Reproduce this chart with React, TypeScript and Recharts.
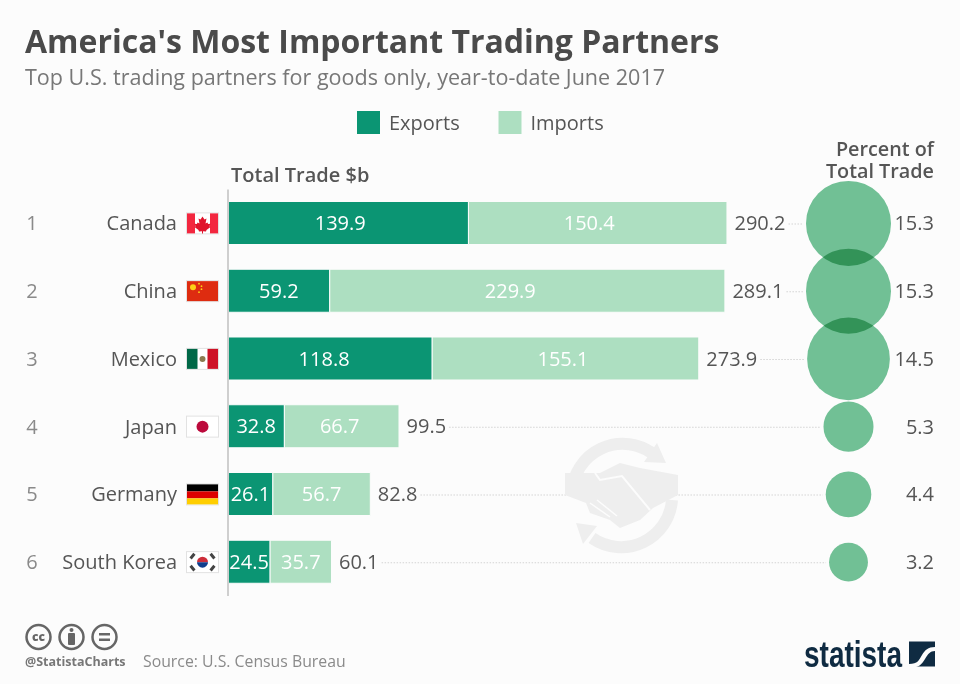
import React from "react";
import {
  BarChart,
  Bar,
  XAxis,
  YAxis,
  ZAxis,
  Scatter,
  ScatterChart,
  LabelList,
  Legend,
} from "recharts";

const FONT = "'Open Sans', sans-serif";
const BG = "#fcfcfc";
const EXPORT_COLOR = "#0b9573";
const IMPORT_COLOR = "#addfc1";
const BUBBLE_COLOR = "#72c397";

const ranks = [1, 2, 3, 4, 5, 6];
const countries = ["Canada", "China", "Mexico", "Japan", "Germany", "South Korea"];
const exportsBn = [139.9, 59.2, 118.8, 32.8, 26.1, 24.5];
const importsBn = [150.4, 229.9, 155.1, 66.7, 56.7, 35.7];
const totalsBn = [290.2, 289.1, 273.9, 99.5, 82.8, 60.1];
const shares = [15.3, 15.3, 14.5, 5.3, 4.4, 3.2];

const barRows = countries.map((country, i) => ({
  country,
  Exports: exportsBn[i],
  Imports: importsBn[i],
  total: totalsBn[i],
}));
const bubbleRows = ranks.map((rank, i) => ({ rank, column: 0, share: shares[i] }));

const PLOT_TOP = 189.5;
const PLOT_BOTTOM = 88;
const LEGEND_HEIGHT = 30;
const BUBBLE_X = 848.5;
const MAX_AREA = Math.PI * 42.5 * 42.5;
const bubbleRadius = (share: number) => Math.sqrt((share / 15.3) * MAX_AREA / Math.PI);

// the original's in-bar labels sit a little left of centre on the long bars
const exportNudge = [-8, 0, -6, 0, 0, 0];
const importNudge = [-8.5, -17, -2.5, -2, 0, 0];

function Flag({ name, y }: { name: string; y: number }) {
  const x = 187;
  const top = y - 10;
  const w = 31;
  const h = 20;
  let body: React.ReactNode = null;
  if (name === "Canada") {
    body = (
      <>
        <rect x={x} y={top} width={8} height={h} fill="#f3273f" />
        <rect x={x + w - 8} y={top} width={8} height={h} fill="#f3273f" />
        <path
          d={`M${x + 15.5} ${top + 3}l2 3 2-1-1 5 2-1 .6 1.6 2.4-.3-1 2.6 1 .8-4 3-.5 1.5-3-.4v2.4h-1v-2.4l-3 .4-.5-1.5-4-3 1-.8-1-2.6 2.4.3.6-1.6 2 1-1-5 2 1z`}
          fill="#e0142c"
        />
      </>
    );
  } else if (name === "China") {
    body = (
      <>
        <rect x={x} y={top} width={w} height={h} fill="#de2c10" />
        <circle cx={x + 6} cy={top + 6} r={3} fill="#fcd116" />
        <circle cx={x + 12} cy={top + 2.5} r={0.9} fill="#fcd116" />
        <circle cx={x + 14.5} cy={top + 5} r={0.9} fill="#fcd116" />
        <circle cx={x + 14.5} cy={top + 8} r={0.9} fill="#fcd116" />
        <circle cx={x + 12} cy={top + 11} r={0.9} fill="#fcd116" />
      </>
    );
  } else if (name === "Mexico") {
    body = (
      <>
        <rect x={x} y={top} width={10.5} height={h} fill="#006847" />
        <rect x={x + 20.5} y={top} width={10.5} height={h} fill="#ce1126" />
        <circle cx={x + 15.5} cy={top + 10} r={3} fill="#8c7a4f" />
      </>
    );
  } else if (name === "Japan") {
    body = <circle cx={x + 15.5} cy={top + 10} r={6} fill="#bc0a3c" />;
  } else if (name === "Germany") {
    body = (
      <>
        <rect x={x} y={top} width={w} height={7} fill="#000000" />
        <rect x={x} y={top + 7} width={w} height={7} fill="#dd0000" />
        <rect x={x} y={top + 14} width={w} height={6} fill="#ffce00" />
      </>
    );
  } else if (name === "South Korea") {
    const cx = x + 15.5;
    const cy = top + 10;
    body = (
      <>
        <path d={`M${cx - 5.5} ${cy}a5.5 5.5 0 0 1 11 0z`} fill="#cd2e3a" />
        <path d={`M${cx - 5.5} ${cy}a5.5 5.5 0 0 0 11 0z`} fill="#0f3d8c" />
        {[
          [-10, -6, 40],
          [10, -6, -40],
          [-10, 6, -40],
          [10, 6, 40],
        ].map(([dx, dy, angle], i) => (
          <rect
            key={i}
            x={cx + dx - 1.5}
            y={cy + dy - 3}
            width={3}
            height={6}
            fill="#444"
            transform={`rotate(${angle} ${cx + dx} ${cy + dy})`}
          />
        ))}
      </>
    );
  }
  return (
    <g>
      <rect x={x - 1} y={top - 1} width={w + 2} height={h + 2} fill="#e2e2e2" />
      <rect x={x} y={top} width={w} height={h} fill="#ffffff" />
      {body}
    </g>
  );
}

function CountryTick({ y, payload, index }: any) {
  return (
    <g fontFamily={FONT} fontSize={20}>
      <text x={32} y={y + 7} textAnchor="middle" fill="#8a8a8a">
        {ranks[index]}
      </text>
      <text x={177} y={y + 7} textAnchor="end" fill="#555555">
        {payload.value}
      </text>
      <Flag name={payload.value} y={y} />
    </g>
  );
}

function ShareTick({ y, index }: any) {
  return (
    <text x={934} y={y + 7} textAnchor="end" fontFamily={FONT} fontSize={20} fill="#555555">
      {shares[index].toFixed(1)}
    </text>
  );
}

function InBarLabel(props: any) {
  const box = props.viewBox ?? props;
  const nudges = props.nudges as number[];
  const values = props.values as number[];
  const index = values.indexOf(Number(props.value));
  return (
    <text
      x={box.x + box.width / 2 + (nudges[index] ?? 0)}
      y={box.y + box.height / 2 + 7}
      textAnchor="middle"
      fontFamily={FONT}
      fontSize={20}
      fill="#ffffff"
    >
      {props.value}
    </text>
  );
}

// total value after the stacked bar, with the dotted leader running up to the bubble
function TotalLabel(props: any) {
  const box = props.viewBox ?? props;
  const value = Number(props.value);
  const index = totalsBn.indexOf(value);
  const left = box.x + box.width + 7.5;
  const midY = box.y + box.height / 2;
  const textWidth = (String(value).length - 1) * 11.44 + 5.3;
  return (
    <g>
      <line
        x1={left + textWidth + 3}
        x2={BUBBLE_X - bubbleRadius(shares[index]) - 3}
        y1={midY + 1}
        y2={midY + 1}
        stroke="#d4d4d4"
        strokeDasharray="1.5 1.5"
      />
      <text x={left} y={midY + 7} fontFamily={FONT} fontSize={20} fill="#555555">
        {value}
      </text>
    </g>
  );
}

// multiply, so the overlaps between the big bubbles go darker like the original
function Bubble({ cx, cy, width }: any) {
  return <circle cx={cx} cy={cy} r={width / 2} fill={BUBBLE_COLOR} style={{ mixBlendMode: "multiply" }} />;
}

function LegendContent({ payload }: any) {
  const spots = [357, 498.5];
  return (
    <svg width={960} height={LEGEND_HEIGHT} style={{ display: "block" }}>
      {(payload ?? []).map((item: any, i: number) => (
        <g key={item.value}>
          <rect x={spots[i]} y={1} width={23} height={23} fill={item.color} />
          <text x={spots[i] + 32} y={20} fontFamily={FONT} fontSize={20} fill="#555555">
            {item.value}
          </text>
        </g>
      ))}
    </svg>
  );
}

function Watermark() {
  const color = "#eeeeee";
  return (
    <svg width={960} height={684} style={{ position: "absolute", left: 0, top: 0 }}>
      <g fill="none" stroke={color} strokeWidth={12}>
        <path d="M572 490A51 51 0 0 1 652 453" />
        <path d="M672 500A51 51 0 0 1 592 538" />
      </g>
      <polygon points="657,443 666,463 644,462" fill={color} />
      <polygon points="576,523 597,526 583,544" fill={color} />
      <polygon
        points="600,473 620,463 640,468 678,475 678,495 653,508 640,520 620,528 610,520 590,513 586,503 565,495 565,473"
        fill={color}
      />
      <polyline
        points="595,473 600,480 622,476 650,510"
        fill="none"
        stroke={BG}
        strokeWidth={2}
      />
      <path d="M590 503l20 14M597 500l20 16" fill="none" stroke={BG} strokeWidth={1.5} />
    </svg>
  );
}

function Footer() {
  return (
    <svg width={960} height={684} style={{ position: "absolute", left: 0, top: 0 }}>
      <g fill="none" stroke="#666666" strokeWidth={2.5}>
        <circle cx={38.5} cy={637} r={12} />
        <circle cx={71.5} cy={637} r={12} />
        <circle cx={104.5} cy={637} r={12} />
      </g>
      <text x={38.5} y={641} textAnchor="middle" fontFamily={FONT} fontSize={12} fontWeight={800} fill="#666666">
        cc
      </text>
      <circle cx={71.5} cy={630} r={2} fill="#666666" />
      <rect x={68} y={633} width={7} height={12} rx={1} fill="#666666" />
      <rect x={99} y={633} width={11} height={2.5} fill="#666666" />
      <rect x={99} y={638.5} width={11} height={2.5} fill="#666666" />
      <text x={25} y={666} fontFamily={FONT} fontSize={12.5} fontWeight={700} fill="#777777">
        @StatistaCharts
      </text>
      <text x={143} y={667} fontFamily={FONT} fontSize={15.8} fill="#8a8a8a">
        Source: U.S. Census Bureau
      </text>
      <text
        x={804}
        y={667}
        fontFamily="'Liberation Sans Narrow', 'Liberation Sans', sans-serif"
        fontSize={36}
        fontWeight={700}
        fill="#0f2b42"
        textLength={98}
        lengthAdjust="spacingAndGlyphs"
      >
        statista
      </text>
      <rect x={909} y={641.5} width={26} height={25} fill="#0f2b42" />
      <path d="M909 664c9 0 10-4 13-9s6-8 13-8v4c-5 0-7 3-10 8s-6 9-16 9z" fill={BG} />
    </svg>
  );
}

export default function App() {
  return (
    <div
      style={{
        position: "absolute",
        left: 0,
        top: 0,
        width: 960,
        height: 684,
        background: BG,
        overflow: "hidden",
        fontFamily: FONT,
      }}
    >
      <BarChart
        style={{ position: "absolute", left: 0, top: 0 }}
        width={960}
        height={684}
        data={barRows}
        layout="vertical"
        margin={{ top: PLOT_TOP, right: 44.5, left: 0, bottom: PLOT_BOTTOM - LEGEND_HEIGHT }}
      >
        <XAxis type="number" domain={[0, 400]} hide />
        <YAxis
          type="category"
          dataKey="country"
          width={228}
          interval={0}
          tick={<CountryTick />}
          tickLine={false}
          axisLine={{ stroke: "#cfcfcf", strokeWidth: 2 }}
        />
        <Legend
          content={<LegendContent />}
          wrapperStyle={{ position: "absolute", left: 0, top: 110, width: 960, height: LEGEND_HEIGHT }}
        />
        <Bar
          dataKey="Exports"
          stackId="trade"
          fill={EXPORT_COLOR}
          stroke={BG}
          strokeWidth={1}
          barSize={43}
          isAnimationActive={false}
        >
          <LabelList dataKey="Exports" content={<InBarLabel nudges={exportNudge} values={exportsBn} />} />
        </Bar>
        <Bar
          dataKey="Imports"
          stackId="trade"
          fill={IMPORT_COLOR}
          stroke={BG}
          strokeWidth={1}
          barSize={43}
          isAnimationActive={false}
        >
          <LabelList dataKey="Imports" content={<InBarLabel nudges={importNudge} values={importsBn} />} />
          <LabelList dataKey="total" content={<TotalLabel />} />
        </Bar>
      </BarChart>

      <Watermark />

      <ScatterChart
        style={{ position: "absolute", left: 0, top: 0 }}
        width={960}
        height={684}
        margin={{ top: PLOT_TOP, right: 0, left: 748.5, bottom: PLOT_BOTTOM }}
      >
        <XAxis type="number" dataKey="column" domain={[-1, 1]} hide />
        <YAxis
          type="number"
          dataKey="rank"
          orientation="right"
          domain={[0.5, 6.5]}
          reversed
          ticks={ranks}
          interval={0}
          width={11.5}
          tick={<ShareTick />}
          tickLine={false}
          axisLine={false}
        />
        <ZAxis type="number" dataKey="share" domain={[0, 15.3]} range={[0, MAX_AREA]} />
        <Scatter data={bubbleRows} fill={BUBBLE_COLOR} shape={<Bubble />} isAnimationActive={false} />
      </ScatterChart>

      <svg width={960} height={200} style={{ position: "absolute", left: 0, top: 0 }}>
        <text x={25} y={53} fontFamily={FONT} fontSize={32} fontWeight={700} fill="#4a4a4a">
          America's Most Important Trading Partners
        </text>
        <text x={25} y={85} fontFamily={FONT} fontSize={21.55} fill="#777777">
          Top U.S. trading partners for goods only, year-to-date June 2017
        </text>
        <text x={231} y={182} fontFamily={FONT} fontSize={20} fontWeight={600} fill="#555555">
          Total Trade $b
        </text>
        <text x={934} y={156} textAnchor="end" fontFamily={FONT} fontSize={19.8} fontWeight={600} fill="#555555">
          Percent of
        </text>
        <text x={934} y={178} textAnchor="end" fontFamily={FONT} fontSize={19.8} fontWeight={600} fill="#555555">
          Total Trade
        </text>
      </svg>

      <Footer />
    </div>
  );
}
